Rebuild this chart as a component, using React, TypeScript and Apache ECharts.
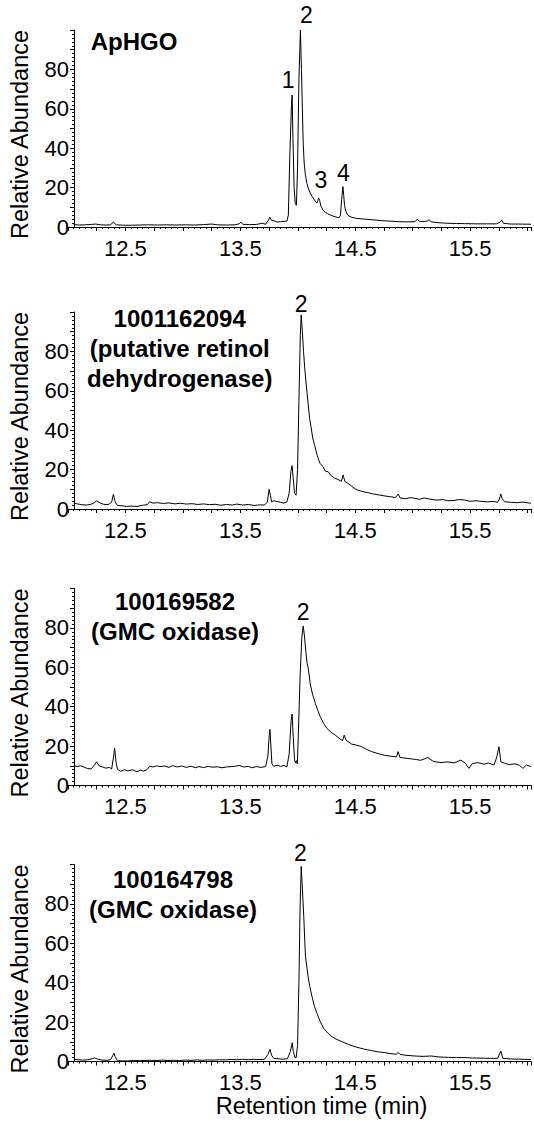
import React, { useEffect, useRef } from "react";
import * as echarts from "echarts";

// ---- Data (retention time in min, relative abundance %) ----
const apHgoTrace: [number, number][] = [
  [12.05, 1.2], [12.1, 1.0], [12.15, 1.1], [12.2, 1.3], [12.24, 1.5], [12.28, 1.1], [12.33, 1.0], [12.37, 1.1],
  [12.395, 2.5], [12.42, 1.1], [12.48, 0.9], [12.55, 0.9], [12.62, 1.0], [12.7, 1.1], [12.78, 1.0], [12.86, 1.1],
  [12.94, 1.0], [13.02, 1.1], [13.1, 1.0], [13.18, 1.2], [13.25, 1.5], [13.3, 1.1], [13.38, 1.0], [13.45, 1.1],
  [13.49, 1.6], [13.505, 2.5], [13.52, 1.4], [13.58, 1.2], [13.64, 1.3], [13.69, 1.9], [13.72, 1.4], [13.745, 3.5],
  [13.757, 5.0], [13.77, 3.4], [13.79, 3.2], [13.82, 2.5], [13.85, 2.7], [13.88, 2.9], [13.905, 3.0], [13.918, 6],
  [13.93, 35], [13.945, 62], [13.951, 67], [13.958, 45], [13.968, 20], [13.978, 12], [13.988, 11], [13.998, 30],
  [14.01, 75], [14.023, 100], [14.032, 80], [14.04, 60], [14.047, 43], [14.055, 33], [14.065, 27], [14.08, 22],
  [14.095, 19], [14.11, 17], [14.125, 15.5], [14.14, 14.2], [14.155, 12.8], [14.168, 12.2], [14.175, 13.5],
  [14.182, 14.8], [14.19, 13.5], [14.202, 10.5], [14.22, 8.5], [14.24, 7.5], [14.26, 6.7], [14.283, 6.1],
  [14.305, 5.6], [14.326, 5.2], [14.345, 4.8], [14.36, 4.8], [14.372, 6], [14.382, 14], [14.393, 20.5],
  [14.4, 16], [14.407, 11], [14.418, 8], [14.428, 6.6], [14.445, 5.6], [14.471, 4.9], [14.51, 4.4], [14.56, 4.1],
  [14.62, 3.8], [14.68, 3.5], [14.73, 3.2], [14.8, 3.0], [14.875, 2.7], [14.95, 2.6], [15.02, 2.7], [15.04, 4.0],
  [15.06, 2.9], [15.1, 2.8], [15.13, 3.1], [15.144, 3.7], [15.16, 2.6], [15.22, 2.2], [15.3, 1.9], [15.38, 1.8],
  [15.45, 1.7], [15.55, 1.6], [15.65, 1.6], [15.73, 1.6], [15.765, 2.6], [15.776, 3.5], [15.79, 1.9], [15.85, 1.5],
  [15.92, 1.5], [16.03, 1.4],
];

const retinolTrace: [number, number][] = [
  [12.05, 3.0], [12.08, 2.6], [12.12, 2.2], [12.16, 2.0], [12.2, 2.4], [12.23, 3.2], [12.25, 4.2], [12.28, 3.0],
  [12.31, 2.4], [12.35, 2.2], [12.38, 3.5], [12.395, 7.4], [12.41, 3.8], [12.43, 1.8], [12.47, 1.6], [12.51, 1.3],
  [12.55, 1.5], [12.6, 1.3], [12.65, 1.9], [12.69, 2.2], [12.71, 3.7], [12.74, 3.0], [12.78, 3.2], [12.83, 2.8],
  [12.88, 3.1], [12.93, 2.6], [12.98, 2.9], [13.03, 2.5], [13.08, 2.7], [13.13, 2.3], [13.18, 2.6], [13.23, 2.2],
  [13.28, 2.4], [13.33, 1.9], [13.38, 2.3], [13.43, 2.0], [13.47, 2.5], [13.52, 2.0], [13.57, 2.3], [13.62, 1.8],
  [13.67, 2.1], [13.71, 2.0], [13.735, 3.5], [13.75, 10], [13.762, 7], [13.772, 3.6], [13.79, 4.2], [13.82, 3.8],
  [13.85, 3.4], [13.88, 3.0], [13.905, 3.6], [13.925, 8], [13.94, 19], [13.95, 22], [13.96, 16], [13.972, 8],
  [13.985, 7], [13.998, 20], [14.01, 55], [14.022, 88], [14.03, 98.5], [14.04, 90], [14.05, 80], [14.06, 72],
  [14.075, 62], [14.09, 53.6], [14.103, 46], [14.115, 41.8], [14.13, 36], [14.15, 31.6], [14.17, 27], [14.193, 23.2],
  [14.22, 21.5], [14.24, 19.2], [14.265, 18.9], [14.29, 17], [14.322, 15.6], [14.35, 15], [14.38, 14], [14.394, 17.3],
  [14.41, 14], [14.437, 13], [14.47, 11.5], [14.5, 10.2], [14.523, 9.6], [14.56, 8.9], [14.61, 8.3], [14.66, 7.6],
  [14.71, 7.1], [14.76, 6.6], [14.81, 6.2], [14.85, 5.8], [14.874, 7.6], [14.89, 5.6], [14.94, 5.2], [14.98, 5.8],
  [15.02, 5.4], [15.06, 4.9], [15.1, 5.6], [15.16, 4.9], [15.21, 4.5], [15.26, 4.8], [15.306, 4.2], [15.36, 4.3],
  [15.4, 4.8], [15.45, 4.6], [15.5, 3.9], [15.55, 4.2], [15.594, 3.9], [15.65, 3.6], [15.7, 3.9], [15.738, 3.4],
  [15.755, 5], [15.767, 7.6], [15.78, 5.2], [15.8, 3.7], [15.85, 3.4], [15.91, 3.2], [15.96, 3.5], [16.03, 2.9],
];

const gmc582Trace: [number, number][] = [
  [12.05, 10.2], [12.08, 9.6], [12.11, 10.0], [12.14, 9.3], [12.17, 8.6], [12.2, 8.4], [12.22, 9.6], [12.25, 12.0],
  [12.27, 10.0], [12.3, 9.4], [12.33, 8.8], [12.36, 9.2], [12.38, 8.4], [12.395, 14], [12.406, 18.9], [12.418, 12],
  [12.43, 8.3], [12.46, 7.2], [12.49, 8.0], [12.52, 7.4], [12.56, 8.0], [12.6, 7.0], [12.63, 7.8], [12.66, 7.3],
  [12.69, 8.2], [12.71, 9.8], [12.74, 9.4], [12.77, 10.0], [12.8, 9.6], [12.84, 9.9], [12.88, 9.2], [12.91, 10.1],
  [12.95, 9.4], [12.99, 9.9], [13.03, 9.2], [13.07, 9.8], [13.11, 9.0], [13.14, 9.6], [13.18, 9.1], [13.22, 9.7],
  [13.26, 9.3], [13.3, 9.5], [13.34, 9.0], [13.38, 9.4], [13.42, 9.6], [13.46, 9.8], [13.49, 10.2], [13.53, 9.4],
  [13.57, 9.7], [13.6, 9.0], [13.64, 9.6], [13.68, 9.2], [13.72, 9.6], [13.74, 15], [13.752, 26], [13.758, 28.5],
  [13.766, 20], [13.775, 11], [13.79, 9.8], [13.82, 10.3], [13.85, 9.7], [13.88, 10.2], [13.905, 9.4], [13.925, 16],
  [13.942, 33], [13.951, 36.3], [13.96, 25], [13.972, 13], [13.98, 11.5], [13.988, 12.6], [13.996, 11], [14.005, 26],
  [14.02, 55], [14.035, 75], [14.047, 81], [14.058, 76], [14.07, 68], [14.081, 62], [14.09, 60], [14.11, 51],
  [14.13, 46], [14.153, 41.7], [14.175, 38], [14.196, 34.9], [14.225, 31.5], [14.254, 29], [14.29, 27], [14.326, 25.6],
  [14.37, 23.5], [14.39, 22.8], [14.404, 25.6], [14.42, 23], [14.445, 22], [14.47, 21], [14.51, 20.5], [14.556, 19.7],
  [14.6, 18.3], [14.643, 17.2], [14.7, 16.2], [14.757, 15.3], [14.82, 14.8], [14.86, 14.5], [14.873, 17.2],
  [14.89, 14.2], [14.95, 13.8], [15.017, 13.3], [15.07, 12.8], [15.132, 14.2], [15.18, 12.2], [15.247, 11.6],
  [15.3, 12.0], [15.36, 11.5], [15.42, 12.9], [15.46, 11.2], [15.49, 8.7], [15.52, 11.2], [15.57, 11.6], [15.62, 10.8],
  [15.66, 11.4], [15.708, 10.4], [15.73, 14], [15.751, 19.7], [15.768, 12], [15.8, 11.3], [15.84, 10.6], [15.889, 11],
  [15.93, 10.2], [15.96, 8.7], [15.99, 10.4], [16.03, 9.6],
];

const gmc798Trace: [number, number][] = [
  [12.05, 1.1], [12.09, 0.9], [12.13, 0.7], [12.17, 0.9], [12.21, 1.4], [12.23, 1.8], [12.26, 1.2], [12.3, 0.7],
  [12.34, 0.6], [12.37, 0.9], [12.39, 3.0], [12.4, 4.2], [12.41, 2.5], [12.43, 0.4], [12.47, 0.3], [12.52, 0.3],
  [12.57, 0.5], [12.62, 0.4], [12.67, 0.5], [12.72, 0.6], [12.77, 0.5], [12.82, 0.7], [12.87, 0.5], [12.92, 0.6],
  [12.97, 0.5], [13.02, 0.7], [13.07, 0.6], [13.12, 0.8], [13.17, 0.6], [13.22, 0.8], [13.27, 0.7], [13.32, 0.9],
  [13.37, 0.8], [13.42, 1.0], [13.47, 0.9], [13.52, 1.1], [13.57, 0.9], [13.62, 1.1], [13.67, 1.0], [13.71, 1.1],
  [13.74, 3.5], [13.758, 6.2], [13.772, 3.2], [13.79, 1.6], [13.83, 1.4], [13.87, 1.2], [13.91, 1.4], [13.935, 5],
  [13.951, 9.5], [13.962, 5], [13.975, 2], [13.985, 1.8], [13.998, 8], [14.01, 40], [14.02, 78], [14.03, 99],
  [14.04, 88], [14.052, 73.5], [14.067, 53.2], [14.09, 43], [14.105, 38], [14.124, 32.9], [14.145, 28], [14.167, 24.5],
  [14.195, 20.3], [14.225, 16.9], [14.26, 14.5], [14.297, 12.6], [14.34, 11.2], [14.383, 10.1], [14.44, 8.7],
  [14.498, 7.5], [14.57, 6.4], [14.643, 5.5], [14.7, 4.9], [14.758, 4.5], [14.82, 3.9], [14.86, 3.7], [14.873, 4.6],
  [14.89, 3.6], [14.95, 3.1], [15.017, 2.8], [15.09, 2.6], [15.16, 2.8], [15.23, 2.3], [15.31, 2.1], [15.38, 2.0],
  [15.45, 2.0], [15.52, 1.8], [15.594, 1.7], [15.68, 1.6], [15.74, 1.6], [15.767, 5.3], [15.785, 1.6], [15.85, 1.3],
  [15.92, 1.2], [16.03, 1.0],
];

// peak number labels: [time, abundance, text]
const apHgoPeakLabels: [number, number, string][] = [
  [13.917, 74.6, "1"], [14.075, 107.6, "2"], [14.202, 23.9, "3"], [14.398, 27.4, "4"],
];
const retinolPeakLabels: [number, number, string][] = [[14.03, 104, "2"]];
const gmc582PeakLabels: [number, number, string][] = [[14.047, 88.2, "2"]];
const gmc798PeakLabels: [number, number, string][] = [[14.023, 105.6, "2"]];

const panelTitles: string[] = [
  "ApHGO",
  "1001162094\n(putative retinol\ndehydrogenase)",
  "100169582\n(GMC oxidase)",
  "100164798\n(GMC oxidase)",
];

const xTickLabels: number[] = [12.5, 13.5, 14.5, 15.5];
const yTickLabels: number[] = [0, 20, 40, 60, 80];

const traces = [apHgoTrace, retinolTrace, gmc582Trace, gmc798Trace];
const peakLabels = [apHgoPeakLabels, retinolPeakLabels, gmc582PeakLabels, gmc798PeakLabels];

// ---- Layout ----
const FONT = "'Liberation Sans', Arial, Helvetica, sans-serif";
const gridTops = [30, 312, 588.5, 864.5];
const GRID_H = 197;
const titlePos: [number, number][] = [[134, 41.7], [179.7, 348], [175, 616.2], [173, 894]];

export default function App() {
  const ref = useRef<HTMLDivElement>(null);

  useEffect(() => {
    if (!ref.current) return;
    const chart = echarts.init(ref.current, undefined, { renderer: "svg" });

    const grid = gridTops.map((top) => ({ left: 68, right: 0, top, height: GRID_H }));

    const xAxis = gridTops.map((_, i) => ({
      type: "value",
      gridIndex: i,
      min: 12.0,
      max: 16.03,
      interval: 0.25,
      axisLine: { show: true, onZero: false, lineStyle: { color: "#000", width: 1 } },
      axisTick: { show: true, inside: false, length: 4, lineStyle: { color: "#000", width: 1 } },
      minorTick: { show: true, splitNumber: 5, length: 2, lineStyle: { color: "#000", width: 1 } },
      splitLine: { show: false },
      minorSplitLine: { show: false },
      axisLabel: {
        color: "#000",
        fontFamily: FONT,
        fontSize: 22,
        margin: 10,
        formatter: (v: number) =>
          xTickLabels.some((t) => Math.abs(t - v) < 1e-6) ? v.toFixed(1) : "",
      },
      name: i === 3 ? "Retention time (min)" : "",
      nameLocation: "middle",
      nameGap: 32,
      nameTextStyle: { color: "#000", fontFamily: FONT, fontSize: 23.5, padding: [0, 0, 0, 44] },
    }));

    const yAxis = gridTops.map((_, i) => ({
      type: "value",
      gridIndex: i,
      min: 0,
      max: 100,
      interval: 10,
      offset: -6,
      axisLine: { show: true, onZero: false, lineStyle: { color: "#000", width: 1 } },
      axisTick: { show: true, inside: false, length: 4, lineStyle: { color: "#000", width: 1 } },
      minorTick: { show: true, splitNumber: 5, length: 2, lineStyle: { color: "#000", width: 1 } },
      splitLine: { show: false },
      minorSplitLine: { show: false },
      axisLabel: {
        color: "#000",
        fontFamily: FONT,
        fontSize: 22,
        margin: 5,
        formatter: (v: number) => (yTickLabels.includes(Math.round(v)) ? String(Math.round(v)) : ""),
      },
      name: "Relative Abundance",
      nameLocation: "middle",
      nameGap: 42,
      nameTextStyle: { color: "#000", fontFamily: FONT, fontSize: 23.5, padding: [0, 12, 0, 0] },
    }));

    const lineSeries = traces.map((data, i) => ({
      type: "line",
      xAxisIndex: i,
      yAxisIndex: i,
      data,
      showSymbol: false,
      symbol: "none",
      lineStyle: { color: "#000", width: 1 },
      clip: true,
      silent: true,
    }));

    const labelSeries = peakLabels.map((labels, i) => ({
      type: "scatter",
      xAxisIndex: i,
      yAxisIndex: i,
      data: labels.map((d) => ({ value: [d[0], d[1]], name: d[2] })),
      symbolSize: 0,
      itemStyle: { color: "#000", opacity: 0 },
      clip: false,
      silent: true,
      label: {
        show: true,
        position: [0, 0],
        align: "center",
        verticalAlign: "middle",
        formatter: (p: any) => p.name,
        color: "#000",
        opacity: 1,
        textBorderWidth: 0,
        fontFamily: FONT,
        fontSize: 23,
      },
      labelLayout: { hideOverlap: false },
    }));

    const graphic = panelTitles.map((text, i) => ({
      type: "text",
      x: titlePos[i][0],
      y: titlePos[i][1],
      style: {
        text,
        fill: "#000",
        font: `bold 24px ${FONT}`,
        lineHeight: 30,
        textAlign: "center",
        textVerticalAlign: "middle",
      },
    }));

    chart.setOption({
      animation: false,
      backgroundColor: "#fff",
      grid,
      xAxis,
      yAxis,
      series: [...lineSeries, ...labelSeries],
      graphic,
    } as any);

    return () => chart.dispose();
  }, []);

  return (
    <div
      ref={ref}
      style={{ position: "absolute", left: 0, top: 0, width: 534, height: 1130, background: "#fff" }}
    />
  );
}
